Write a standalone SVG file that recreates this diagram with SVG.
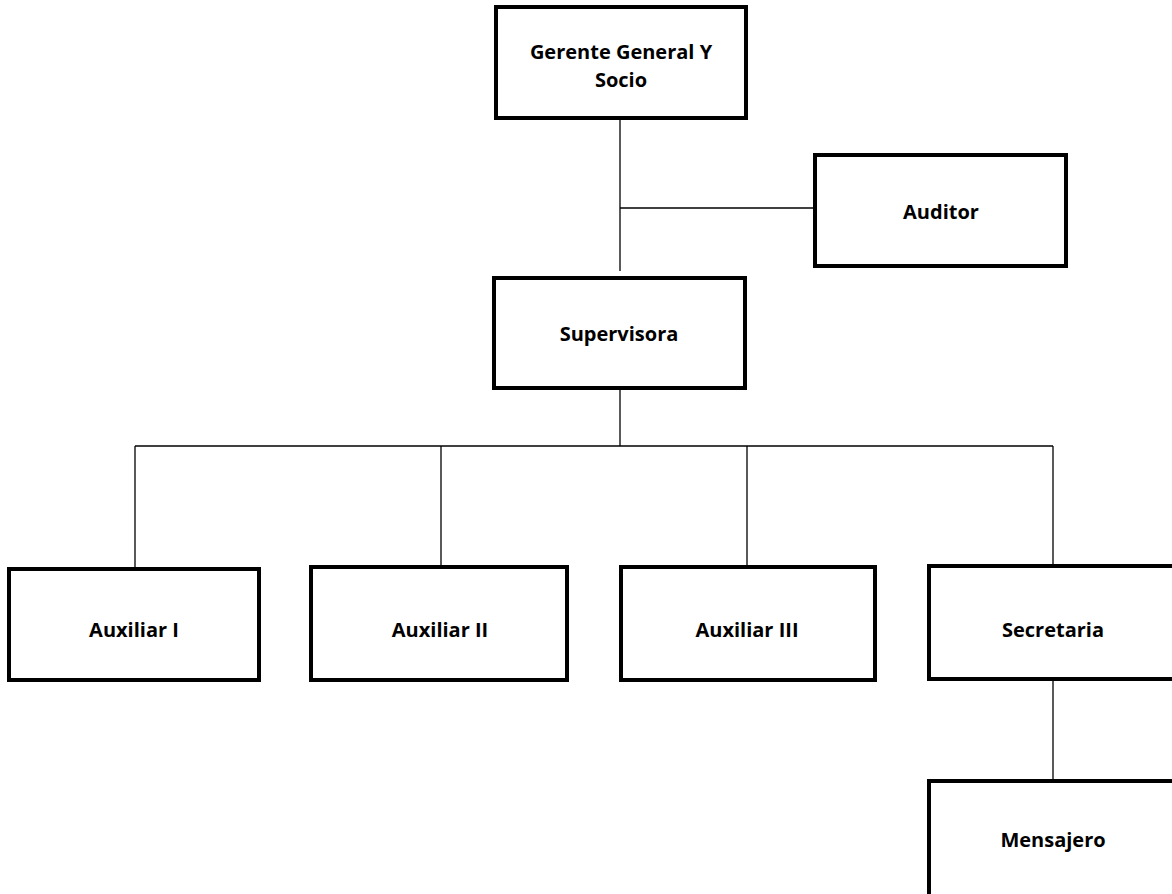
<svg xmlns="http://www.w3.org/2000/svg" width="1172" height="894" viewBox="0 0 1172 894">
<style>
.box{fill:#fff;stroke:#000;stroke-width:4}
.lbl{font-family:"Open Sans","Liberation Sans",sans-serif;font-weight:bold;font-size:20px;fill:#000;text-anchor:middle}
.ln{stroke:#000;stroke-width:1.3;fill:none}
</style>
<rect width="1172" height="894" fill="#fff"/>
<g id="connectors">
<line class="ln" x1="620" y1="119" x2="620" y2="271"/>
<line class="ln" x1="620" y1="208" x2="813" y2="208"/>
<line class="ln" x1="620" y1="390" x2="620" y2="446"/>
<line class="ln" x1="135" y1="446" x2="1053" y2="446"/>
<line class="ln" x1="135" y1="446" x2="135" y2="567"/>
<line class="ln" x1="441" y1="446" x2="441" y2="566"/>
<line class="ln" x1="747" y1="446" x2="747" y2="566"/>
<line class="ln" x1="1053" y1="446" x2="1053" y2="566"/>
<line class="ln" x1="1053" y1="681" x2="1053" y2="779"/>
</g>
<g id="gerente"><rect class="box" x="496" y="7" width="250" height="111"/><text class="lbl" x="621" y="59">Gerente General Y</text><text class="lbl" x="621" y="87">Socio</text></g>
<g id="auditor"><rect class="box" x="815" y="155" width="251" height="111"/><text class="lbl" x="941" y="219">Auditor</text></g>
<g id="supervisora"><rect class="box" x="494" y="278" width="251" height="110"/><text class="lbl" x="619" y="341">Supervisora</text></g>
<g id="auxiliar1"><rect class="box" x="9" y="569" width="250" height="111"/><text class="lbl" x="134" y="637">Auxiliar I</text></g>
<g id="auxiliar2"><rect class="box" x="311" y="567" width="256" height="113"/><text class="lbl" x="440" y="637">Auxiliar II</text></g>
<g id="auxiliar3"><rect class="box" x="621" y="567" width="254" height="113"/><text class="lbl" x="747" y="637">Auxiliar III</text></g>
<g id="secretaria"><rect class="box" x="929" y="566" width="260" height="113"/><text class="lbl" x="1053" y="637">Secretaria</text></g>
<g id="mensajero"><rect class="box" x="929" y="781" width="260" height="130"/><text class="lbl" x="1053" y="847">Mensajero</text></g>
</svg>
